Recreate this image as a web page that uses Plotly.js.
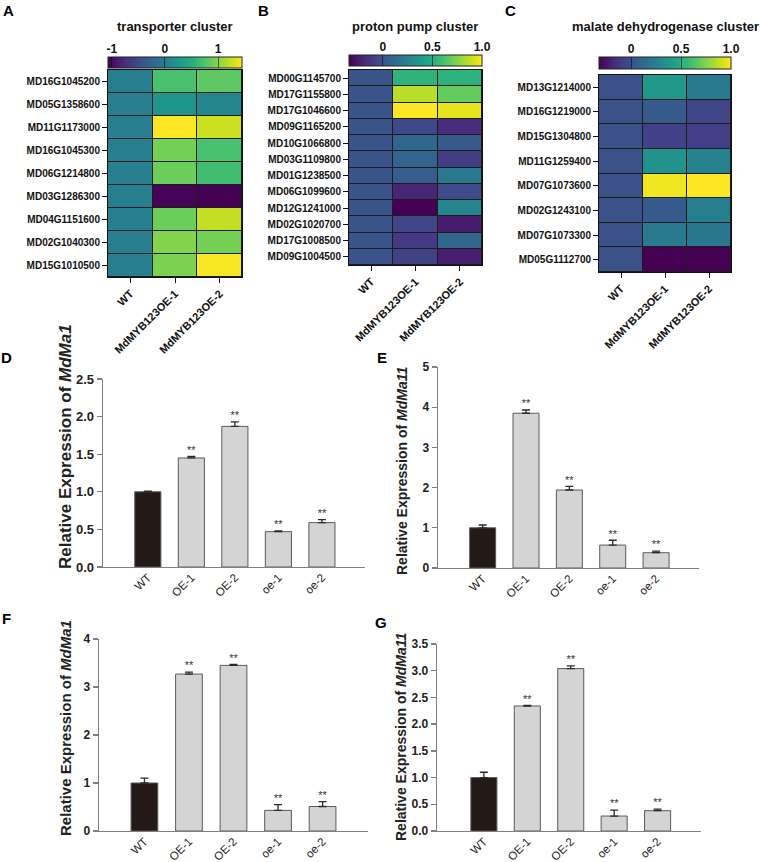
<!DOCTYPE html>
<html><head><meta charset="utf-8">
<script src="https://cdn.plot.ly/plotly-3.0.1.min.js"></script>
<style>body{margin:0;padding:0;background:#fff}#chart{width:760px;height:862px}</style>
</head><body><div id="chart"></div>
<script>
// ---------------- Data ----------------
const heatCols = ['WT', 'MdMYB123OE-1', 'MdMYB123OE-2'];

const transporterGenes = ['MD16G1045200','MD05G1358600','MD11G1173000','MD16G1045300','MD06G1214800','MD03G1286300','MD04G1151600','MD02G1040300','MD15G1010500'];
const transporterWT  = [0, 0, 0, 0, 0, 0, 0, 0, 0];
const transporterOE1 = [0.72, 0.25, 1.45, 0.92, 0.88, -1.05, 0.88, 0.98, 0.95];
const transporterOE2 = [0.82, 0.08, 1.25, 0.72, 0.68, -1.07, 1.22, 0.92, 1.42];
const transporterTickVals = [-1, 0, 1];
const transporterTickText = ['-1', '0', '1'];

const protonGenes = ['MD00G1145700','MD17G1155800','MD17G1046600','MD09G1165200','MD10G1066800','MD03G1109800','MD01G1238500','MD06G1099600','MD12G1241000','MD02G1020700','MD17G1008500','MD09G1004500'];
const protonWT  = [0, 0, 0, 0, 0, 0, 0, 0, 0, 0, 0, 0];
const protonOE1 = [0.53, 0.86, 1.00, -0.05, 0.10, 0.09, 0.05, -0.20, -0.34, -0.07, -0.12, -0.08];
const protonOE2 = [0.52, 0.68, 0.95, -0.17, 0.03, -0.10, 0.20, -0.03, 0.26, -0.24, 0.10, -0.23];
const protonTickVals = [0, 0.5, 1.0];
const protonTickText = ['0', '0.5', '1.0'];

const malateGenes = ['MD13G1214000','MD16G1219000','MD15G1304800','MD11G1259400','MD07G1073600','MD02G1243100','MD07G1073300','MD05G1112700'];
const malateWT  = [0, 0, 0, 0, 0, 0, 0, 0];
const malateOE1 = [0.38, 0.05, -0.07, 0.35, 0.97, 0.05, 0.22, -0.32];
const malateOE2 = [0.22, -0.05, -0.08, 0.26, 1.00, 0.24, 0.20, -0.32];
const malateTickVals = [0, 0.5, 1.0];
const malateTickText = ['0', '0.5', '1.0'];

const barCats  = ['WT', 'OE-1', 'OE-2', 'oe-1', 'oe-2'];
const sigMarks = ['', '**', '**', '**', '**'];
const dMean = [1.00, 1.45, 1.87, 0.47, 0.59];   // MdMa1 (D)
const dErr  = [0.01, 0.02, 0.06, 0.01, 0.04];
const eMean = [1.00, 3.85, 1.94, 0.57, 0.38];   // MdMa11 (E)
const eErr  = [0.07, 0.08, 0.09, 0.12, 0.04];
const fMean = [1.00, 3.27, 3.45, 0.43, 0.51];   // MdMa1 (F)
const fErr  = [0.10, 0.04, 0.02, 0.12, 0.10];
const gMean = [1.00, 2.34, 3.04, 0.28, 0.38];   // MdMa11 (G)
const gErr  = [0.10, 0.01, 0.05, 0.11, 0.03];

// ---------------- Helpers ----------------
const W = 760, H = 862;
const FONT = 'Liberation Sans, Arial, Helvetica, sans-serif';
const px = v => v / W;
const py = v => 1 - v / H;
const zip3 = (a, b, c) => a.map((v, i) => [v, b[i], c[i]]);

const traces = [];
const layout = {
  width: W, height: H,
  margin: {l: 0, r: 0, t: 0, b: 0},
  paper_bgcolor: '#ffffff', plot_bgcolor: 'rgba(0,0,0,0)',
  showlegend: false,
  bargap: 0.4,
  font: {family: FONT, color: '#111'},
  annotations: [], shapes: []
};

function addHeat(n, genes, wt, oe1, oe2, zmin, zmax, box, cb, tickVals, tickText, title) {
  const xa = n === 1 ? 'x' : 'x' + n, ya = n === 1 ? 'y' : 'y' + n;
  const xk = n === 1 ? 'xaxis' : 'xaxis' + n, yk = n === 1 ? 'yaxis' : 'yaxis' + n;
  traces.push({
    type: 'heatmap', x: heatCols, y: genes, z: zip3(wt, oe1, oe2),
    xaxis: xa, yaxis: ya, zmin: zmin, zmax: zmax, colorscale: 'Viridis',
    xgap: 1, ygap: 1, hoverinfo: 'x+y+z',
    colorbar: {
      orientation: 'h', xref: 'paper', yref: 'paper',
      x: px((box.x0 + box.x1) / 2), xanchor: 'center',
      y: py(cb.y0), yanchor: 'top',
      len: box.x1 - box.x0, lenmode: 'pixels',
      thickness: cb.y1 - cb.y0, thicknessmode: 'pixels',
      xpad: 0, ypad: 0, outlinewidth: 1, outlinecolor: '#222',
      tickvals: tickVals.filter(v => v > zmin + 0.05 && v < zmax - 0.05),
      ticks: 'inside', ticklen: cb.y1 - cb.y0, tickwidth: 1, tickcolor: 'rgba(0,0,0,0.55)',
      showticklabels: false
    }
  });
  layout[xk] = {
    domain: [px(box.x0), px(box.x1)], anchor: ya, type: 'category',
    showline: true, linecolor: '#111', linewidth: 1, mirror: true,
    ticks: 'outside', ticklen: 5, tickcolor: '#111', tickwidth: 1,
    tickangle: -45, showgrid: false, zeroline: false,
    tickfont: {family: FONT, size: 11, weight: 'bold', color: '#111'}
  };
  layout[yk] = {
    domain: [py(box.y1), py(box.y0)], anchor: xa, type: 'category', autorange: 'reversed',
    showline: true, linecolor: '#111', linewidth: 1, mirror: true,
    ticks: 'outside', ticklen: 5, tickcolor: '#111', tickwidth: 1,
    showgrid: false, zeroline: false,
    tickfont: {family: FONT, size: 10, weight: 'bold', color: '#111'}
  };
  layout.shapes.push({type: 'rect', xref: xa + ' domain', yref: ya + ' domain', x0: 0, x1: 1, y0: 0, y1: 1,
    fillcolor: '#1c1c1c', line: {width: 0}, layer: 'below'});
  // colorbar label axis (same scale as the colour bar)
  const ln = n + 7;
  traces.push({type: 'scatter', mode: 'markers', x: tickVals, y: tickVals.map(() => 0.5),
    xaxis: 'x' + ln, yaxis: 'y' + ln, marker: {opacity: 0}, hoverinfo: 'skip'});
  layout['xaxis' + ln] = {
    domain: [px(box.x0), px(box.x1)], anchor: 'y' + ln, side: 'top',
    range: [zmin, zmax], tickvals: tickVals, ticktext: tickText,
    showline: false, ticks: '', ticklen: 0, showgrid: false, zeroline: false,
    ticklabelstandoff: 1,
    tickfont: {family: FONT, size: 12, weight: 'bold', color: '#111'}
  };
  layout['yaxis' + ln] = {domain: [py(cb.y1), py(cb.y0)], anchor: 'x' + ln, range: [0, 1], visible: false};
  layout.annotations.push({text: title, xref: 'paper', yref: 'paper', x: px((box.x0 + box.x1) / 2), y: py(26),
    xanchor: 'center', yanchor: 'middle', showarrow: false,
    font: {family: FONT, size: 13, weight: 'bold', color: '#111'}});
}

function addBars(n, mean, err, yRange, yTicks, xRange, box, title, tfs, tpos, tickfs) {
  const xa = 'x' + n, ya = 'y' + n;
  traces.push({
    type: 'bar', x: barCats, y: mean, xaxis: xa, yaxis: ya,
    marker: {color: barCats.map(c => c === 'WT' ? '#231916' : '#d4d4d4'), line: {color: '#5a5a5a', width: 1}},
    error_y: {type: 'data', array: err, arrayminus: err.map(() => 0), symmetric: false,
      color: '#2a2a2a', thickness: 1.3, width: 4}
  });
  traces.push({
    type: 'scatter', mode: 'text', x: barCats, y: mean.map((m, i) => m + err[i]),
    text: sigMarks, textposition: 'top center', xaxis: xa, yaxis: ya, hoverinfo: 'skip',
    textfont: {family: FONT, size: 11, color: '#333'}
  });
  layout['xaxis' + n] = {
    domain: [px(box.x0), px(box.x1)], anchor: ya, type: 'category', range: xRange,
    showline: true, linecolor: '#808080', linewidth: 1.3, ticks: '', showgrid: false, zeroline: false,
    tickangle: -45, ticklabelstandoff: -2, tickfont: {family: FONT, size: 11.5, color: '#222'}
  };
  layout['yaxis' + n] = {
    domain: [py(box.y1), py(box.y0)], anchor: xa, range: yRange, tickvals: yTicks,
    showline: true, linecolor: '#808080', linewidth: 1.3, ticks: 'outside', ticklen: 5, tickwidth: 1.3,
    tickcolor: '#808080', showgrid: false, zeroline: false,
    tickfont: {family: FONT, size: tickfs, weight: 'bold', color: '#222'}
  };
  layout.annotations.push({text: title, xref: 'paper', yref: 'paper', x: px(tpos[0]), y: py(tpos[1]),
    xanchor: 'center', yanchor: 'middle', textangle: -90, showarrow: false,
    font: {family: FONT, size: tfs, weight: 'bold', color: '#222'}});
}

addHeat(1, transporterGenes, transporterWT, transporterOE1, transporterOE2, -1.07, 1.45,
  {x0: 108, x1: 242, y0: 70, y1: 277}, {y0: 57, y1: 68}, transporterTickVals, transporterTickText, 'transporter cluster');
addHeat(2, protonGenes, protonWT, protonOE1, protonOE2, -0.34, 1.0,
  {x0: 349, x1: 482, y0: 70, y1: 265}, {y0: 55, y1: 66}, protonTickVals, protonTickText, 'proton pump cluster');
addHeat(3, malateGenes, malateWT, malateOE1, malateOE2, -0.32, 1.0,
  {x0: 599, x1: 731, y0: 75, y1: 272}, {y0: 57, y1: 69}, malateTickVals, malateTickText, 'malate dehydrogenase cluster');

addBars(4, dMean, dErr, [0, 2.5], [0, 0.5, 1.0, 1.5, 2.0, 2.5], [-1.03, 4.99],
  {x0: 103, x1: 365, y0: 379, y1: 567}, 'Relative Expression of <i>MdMa1</i>', 17, [65, 447], 13);
addBars(5, eMean, eErr, [0, 5], [0, 1, 2, 3, 4, 5], [-1.03, 4.99],
  {x0: 438, x1: 699, y0: 367, y1: 568}, 'Relative Expression of <i>MdMa11</i>', 14, [402, 471], 12);
addBars(6, fMean, fErr, [0, 4], [0, 1, 2, 3, 4], [-1.02, 5.02],
  {x0: 99, x1: 368, y0: 639, y1: 831}, 'Relative Expression of <i>MdMa1</i>', 15, [65, 728], 12);
addBars(7, gMean, gErr, [0, 3.5], [0, 0.5, 1.0, 1.5, 2.0, 2.5, 3.0, 3.5], [-1.08, 5.0],
  {x0: 437, x1: 701, y0: 644, y1: 831}, 'Relative Expression of <i>MdMa11</i>', 14, [401, 737], 12);

layout.yaxis4.tickformat = '.1f';
layout.yaxis7.tickformat = '.1f';

// panel letters
[['A', 8, 10], ['B', 263, 10], ['C', 510, 10], ['D', 7, 357], ['E', 382, 357], ['F', 6, 618], ['G', 381, 622]]
  .forEach(([t, x, y]) => layout.annotations.push({text: t, xref: 'paper', yref: 'paper', x: px(x), y: py(y),
    xanchor: 'center', yanchor: 'middle', showarrow: false, font: {family: FONT, size: 15, weight: 'bold', color: '#000'}}));

Plotly.newPlot('chart', traces, layout, {displayModeBar: false, staticPlot: true});
</script>
</body></html>
